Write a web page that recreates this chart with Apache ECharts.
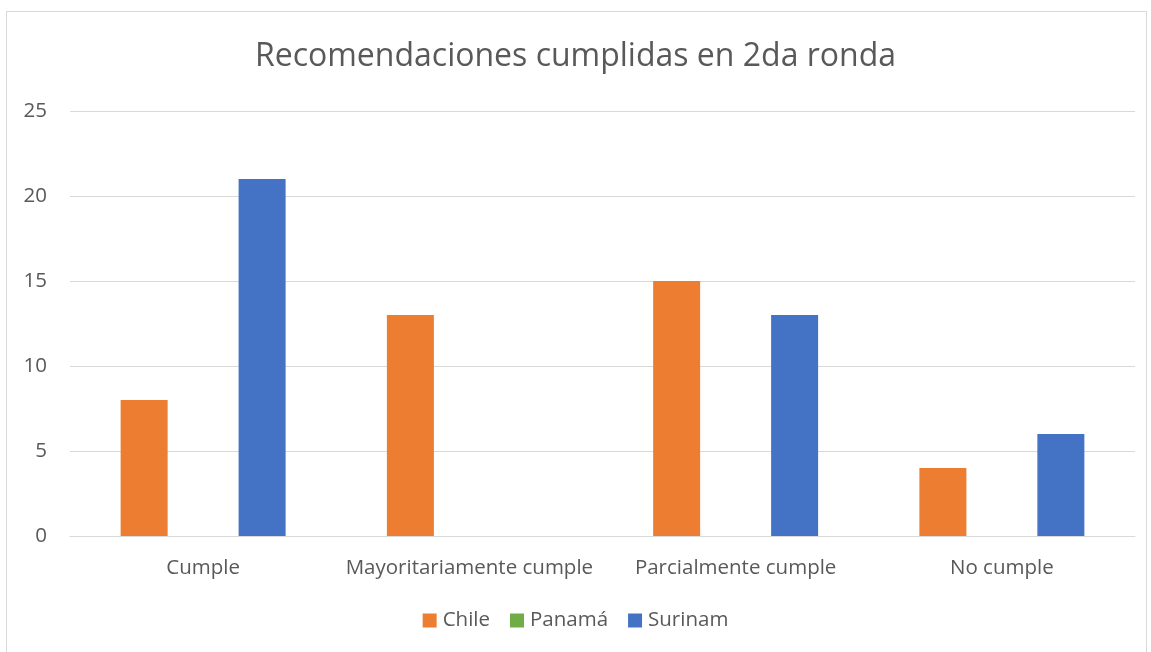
<!DOCTYPE html>
<html>
<head>
<meta charset="utf-8">
<script src="https://cdn.jsdelivr.net/npm/echarts@6/dist/echarts.min.js"></script>
<style>
  html, body { margin: 0; padding: 0; background: #fff; overflow: hidden; }
  .frame {
    position: absolute; left: 6px; top: 11px; width: 1141px; height: 660px;
    border: 1px solid #d9d9d9; box-sizing: border-box;
  }
  #chart { position: absolute; left: 0; top: 0; width: 1151px; height: 652px; }
</style>
</head>
<body>
<div class="frame"></div>
<div id="chart"></div>
<script>
const categories = ['Cumple', 'Mayoritariamente cumple', 'Parcialmente cumple', 'No cumple']
const chileValues = [8, 13, 15, 4]
const panamaValues = [0, 0, 0, 0]
const surinamValues = [21, 0, 13, 6]
const yTicks = { min: 0, max: 25, interval: 5 }

const textColor = '#595959'
const fontFamily = '"Open Sans", "Noto Sans", sans-serif'

const chart = echarts.init(document.getElementById('chart'))

const barSeries = (name, data, color) => ({
  name,
  type: 'bar',
  data,
  barWidth: 47,
  barGap: '25.5%',
  itemStyle: { color },
  emphasis: { disabled: true },
})

const option = {
  animation: false,
  title: {
    text: 'Recomendaciones cumplidas en 2da ronda',
    left: 'center',
    top: 36,
    textStyle: {
      fontSize: 32,
      fontWeight: 'normal',
      color: textColor,
      fontFamily,
    },
  },
  legend: {
    bottom: 16,
    left: 'center',
    itemWidth: 14,
    itemHeight: 14,
    itemGap: 20,
    icon: 'rect',
    textStyle: { fontSize: 20.5, color: textColor, fontFamily, padding: [0, 0, 0, 1] },
  },
  grid: {
    left: 70,
    right: 16,
    top: 111,
    bottom: 116,
  },
  xAxis: {
    type: 'category',
    data: categories,
    axisTick: { show: false },
    axisLine: { lineStyle: { color: '#d9d9d9', width: 1 } },
    axisLabel: { interval: 0, fontSize: 20.5, color: textColor, fontFamily, margin: 22 },
  },
  yAxis: {
    type: 'value',
    min: yTicks.min,
    max: yTicks.max,
    interval: yTicks.interval,
    axisLine: { show: false },
    axisTick: { show: false },
    splitLine: { lineStyle: { color: '#d9d9d9', width: 1 } },
    axisLabel: { fontSize: 20.5, color: textColor, fontFamily, margin: 23 },
  },
  series: [
    barSeries('Chile', chileValues, '#ED7D31'),
    barSeries('Panamá', panamaValues, '#70AD47'),
    barSeries('Surinam', surinamValues, '#4472C4'),
  ],
}

chart.setOption(option)
</script>
</body>
</html>
